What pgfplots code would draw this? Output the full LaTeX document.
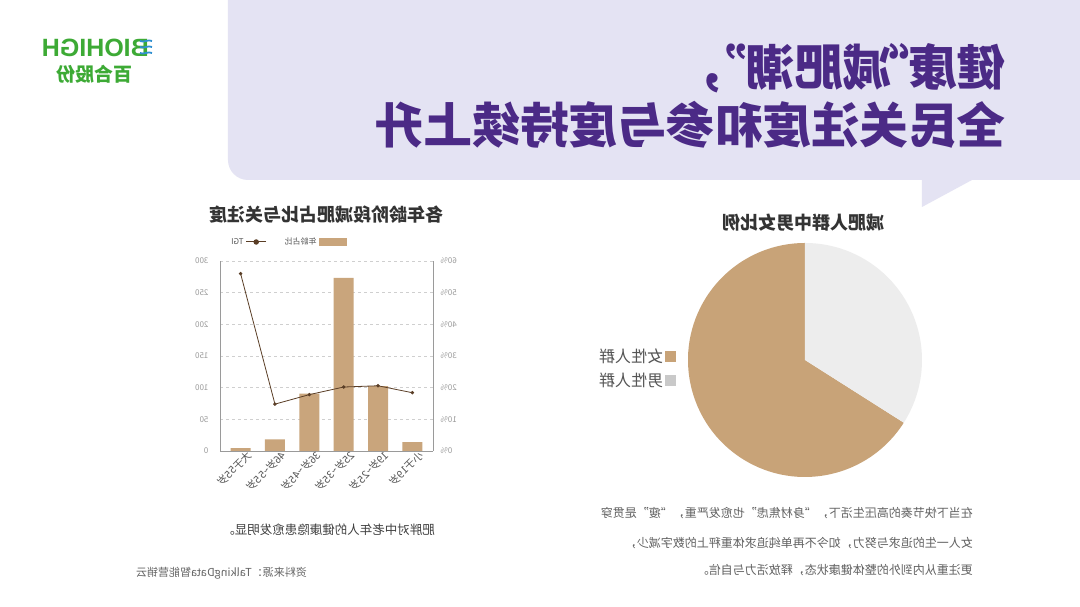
\documentclass[border=0pt]{standalone}
\usepackage{graphicx}
\usepackage{fontspec}
\setmainfont{Noto Sans CJK SC}
\newfontfamily\logofont{Liberation Sans}
\usepackage{pgfplots}
\pgfplotsset{compat=1.18}
\usepackage{pgfplotstable}
\definecolor{band}{HTML}{E4E3F3}
\definecolor{ttl}{HTML}{4B2A86}
\definecolor{barc}{HTML}{C9A57C}
\definecolor{linec}{HTML}{5A3E26}
\definecolor{piet}{HTML}{C8A378}
\definecolor{pieg}{HTML}{EDEDED}
\definecolor{axg}{HTML}{9A9A9A}
\definecolor{tickg}{HTML}{9A9A9A}
\definecolor{gridg}{HTML}{CFCFCF}
\definecolor{txt}{HTML}{555555}
\definecolor{logog}{HTML}{3DAA35}
\definecolor{logob}{HTML}{2F8FD0}

\pgfplotstableread{
x share tgi
0 2.8 92
1 20.5 103
2 54.7 101
3 18.1 89
4 3.7 74
5 0.9 280
}\agedata

\begin{document}
\reflectbox{%
\begin{tikzpicture}
\useasboundingbox (0pt,0pt) rectangle (1080pt,607pt);
\fill[white] (0pt,0pt) rectangle (1080pt,607pt);
% lavender band with speech tail
\fill[band] (0pt,607pt) -- (852pt,607pt) -- (852pt,447pt) arc[start angle=0,end angle=-90,radius=20pt] -- (158pt,427pt) -- (158pt,400pt) -- (108pt,427pt) -- (0pt,427pt) -- cycle;
% title
\node[anchor=west, inner sep=0pt, text=ttl, font=\fontsize{48.5}{50}\selectfont\bfseries] at (74pt,539pt) {健康\kern-0.6em“\kern-0.05em减肥潮”\kern-0.62em，};
\node[anchor=west, inner sep=0pt, text=ttl, font=\fontsize{48.5}{50}\selectfont\bfseries] at (74pt,482pt) {全民关注度和参与度持续上升};
% logo
\node[anchor=west, inner sep=0pt, text=logog, font=\logofont\fontsize{25}{26}\selectfont\bfseries] at (931pt,559pt) {BIOHIGH};
\foreach \yy in {566,560,554}{\draw[logob, line width=1.8pt] (928pt,\yy pt) .. controls (932pt,\yy pt+2pt) and (936pt,\yy pt-2pt) .. (940pt,\yy pt);}
\node[anchor=west, inner sep=0pt, text=logog, font=\fontsize{19}{20}\selectfont\bfseries] at (947pt,533pt) {百合股份};

% ---------- bar + line chart ----------
\node[text=black!80, font=\fontsize{18}{20}\selectfont\bfseries] at (753pt,392pt) {各年龄阶段减肥占比与关注度};
\begin{axis}[
  at={(647pt,156pt)}, anchor=south west,
  scale only axis, width=213pt, height=190pt,
  xmin=-0.6, xmax=5.6, ymin=0, ymax=60,
  axis x line*=bottom, axis y line*=left,
  axis line style={-, draw=axg, line width=0.9pt},
  xtick={0,...,5},
  xticklabels={小于19岁,19岁\textasciitilde25岁,25岁\textasciitilde35岁,36岁\textasciitilde45岁,46岁\textasciitilde55岁,大于55岁},
  xticklabel style={rotate=-45, anchor=north west, font=\fontsize{10.5}{11}\selectfont, text=txt, inner sep=1pt, xshift=-6pt, yshift=-2pt},
  ytick={0,10,...,60}, yticklabel={\pgfmathprintnumber{\tick}\%},
  yticklabel style={font=\fontsize{8}{9}\selectfont, text=tickg, xshift=-4pt},
  /pgf/number format/assume math mode=true,
  major tick length=0pt,
  ymajorgrids, grid style={dashed, gridg, line width=0.6pt},
  ybar, bar width=20pt,
  legend columns=2,
  legend style={at={(0.39,1.10)}, anchor=west, draw=none, fill=none, font=\fontsize{8}{9}\selectfont, text=txt,
    /tikz/every even column/.append style={column sep=16pt}},
]
\addplot[fill=barc, draw=none, legend image code/.code={\fill[barc] (0pt,-4pt) rectangle (28pt,4pt);}] table[x=x, y=share] {\agedata};
\addlegendentry{年龄占比}
\addlegendimage{linec, line width=1pt, legend image code/.code={\draw[linec, line width=1pt] (0pt,0pt) -- (20pt,0pt); \fill[linec] (10pt,0pt) circle (2.2pt);}}
\addlegendentry{TGI}
\end{axis}
\begin{axis}[
  at={(647pt,156pt)}, anchor=south west,
  scale only axis, width=213pt, height=190pt,
  xmin=-0.6, xmax=5.6, ymin=0, ymax=300,
  axis y line*=right, axis x line=none,
  axis line style={-, draw=axg, line width=0.9pt},
  ytick={0,50,...,300},
  yticklabel style={font=\fontsize{8}{9}\selectfont, text=tickg, xshift=8pt},
  /pgf/number format/assume math mode=true,
  major tick length=0pt,
]
\addplot[linec, line width=0.8pt, mark=*, mark size=1.3pt] table[x=x, y=tgi] {\agedata};
\end{axis}
\node[anchor=west, inner sep=0pt, text=black!75, font=\fontsize{12.5}{14}\selectfont] at (645pt,77pt) {肥胖对中老年人的健康隐患愈发明显。};
\node[anchor=west, inner sep=0pt, text=black!60, font=\fontsize{11}{12}\selectfont] at (773pt,34pt) {资料来源：TalkingData智能营销云};

% ---------- pie ----------
\node[text=black!80, font=\fontsize{18}{20}\selectfont\bfseries] at (276pt,384pt) {减肥人群中男女比例};
\begin{axis}[
  at={(275pt,247pt)}, anchor=center,
  scale only axis, width=234pt, height=234pt,
  xmin=-1, xmax=1, ymin=-1, ymax=1, hide axis, clip=false,
  legend style={at={(1.04,0.565)}, anchor=north west, draw=none, fill=none, font=\fontsize{16}{17}\selectfont, text=txt, row sep=5pt},
]
\pgfmathsetmacro\male{34}
\pgfmathsetmacro\split{90+3.6*\male}
\fill[piet] (axis cs:0,0) -- ++(\split:117pt) arc[start angle=\split, end angle=450, radius=117pt] -- cycle;
\fill[pieg] (axis cs:0,0) -- ++(90:117pt) arc[start angle=90, end angle=\split, radius=117pt] -- cycle;
\addlegendimage{piet, legend image code/.code={\fill[piet] (0pt,-5pt) rectangle (10pt,5pt);}}
\addlegendentry{女性人群}
\addlegendimage{pieg, legend image code/.code={\fill[pieg!85!black] (0pt,-5pt) rectangle (10pt,5pt);}}
\addlegendentry{男性人群}
\end{axis}
% paragraph
\node[anchor=west, inner sep=0pt, text=black!62, font=\fontsize{12}{13}\selectfont] at (107pt,94pt) {在当下快节奏的高压生活下，“身材焦虑”也愈发严重，“瘦”是贯穿};
\node[anchor=west, inner sep=0pt, text=black!62, font=\fontsize{12}{13}\selectfont] at (107pt,64pt) {女人一生的追求与努力，如今不再单纯追求体重秤上的数字减少，};
\node[anchor=west, inner sep=0pt, text=black!62, font=\fontsize{12}{13}\selectfont] at (107pt,37pt) {更注重从内到外的整体健康状态，释放活力与自信。};
\end{tikzpicture}}
\end{document}
